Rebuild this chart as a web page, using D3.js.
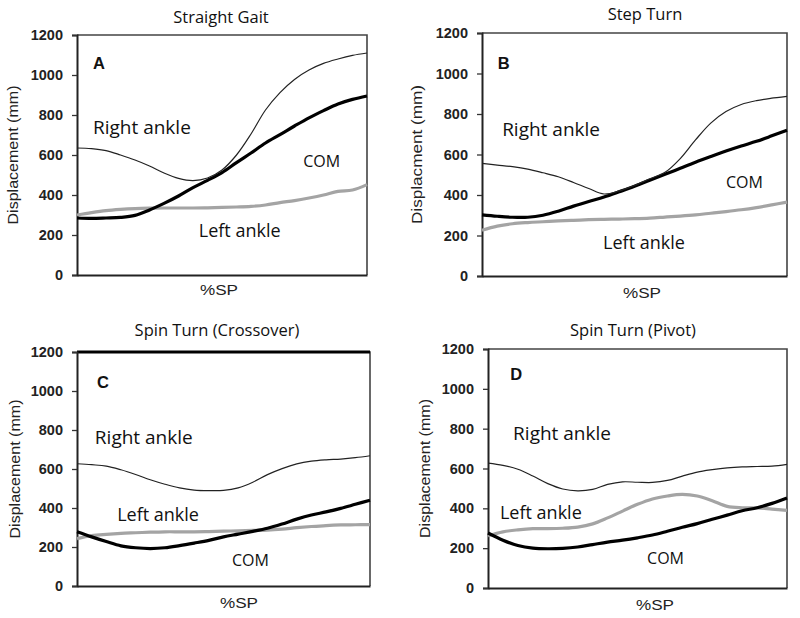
<!DOCTYPE html>
<html>
<head>
<meta charset="utf-8">
<script src="https://cdn.jsdelivr.net/npm/d3@7"></script>
<style>
  body { margin: 0; background: #fff; }
  svg { display: block; }
</style>
</head>
<body>
<svg width="800" height="618"></svg>
<script>
// %SP sample points shared by every curve
var pct = [0, 5, 10, 15, 20, 25, 30, 35, 40, 45, 50, 55, 60, 65, 70, 75, 80, 85, 90, 95, 100];
var yTicks = [0, 200, 400, 600, 800, 1000, 1200];

// A - Straight Gait
var rightA = [635, 632, 622, 600, 575, 545, 510, 483, 472, 485, 525, 600, 705, 825, 912, 978, 1025, 1058, 1080, 1098, 1110];
var comA   = [285, 283, 285, 288, 298, 325, 358, 395, 437, 473, 512, 562, 610, 660, 702, 745, 786, 822, 855, 878, 895];
var leftA  = [300, 312, 322, 328, 332, 334, 335, 335, 335, 336, 338, 340, 343, 350, 362, 372, 385, 400, 418, 425, 452];
// B - Step Turn
var rightB = [556, 548, 540, 528, 510, 490, 462, 432, 405, 420, 447, 480, 512, 580, 672, 755, 812, 847, 866, 878, 887];
var comB   = [302, 295, 290, 290, 300, 320, 345, 368, 390, 416, 443, 473, 502, 532, 562, 590, 617, 642, 665, 692, 720];
var leftB  = [226, 246, 258, 264, 268, 272, 275, 278, 280, 281, 283, 286, 291, 296, 302, 310, 318, 327, 338, 351, 365];
// C - Spin Turn (Crossover)
var rightC = [627, 622, 615, 596, 572, 545, 522, 503, 492, 489, 490, 503, 532, 571, 602, 626, 640, 647, 651, 658, 668];
var comC   = [278, 252, 228, 206, 196, 192, 196, 207, 220, 234, 252, 266, 280, 296, 318, 343, 364, 380, 398, 419, 440];
var leftC  = [243, 258, 265, 270, 273, 276, 278, 278, 278, 279, 281, 283, 285, 287, 292, 299, 305, 310, 313, 314, 315];
// D - Spin Turn (Pivot)
var rightD = [627, 616, 596, 562, 524, 497, 488, 495, 520, 533, 531, 530, 540, 562, 582, 594, 603, 608, 610, 612, 621];
var comD   = [276, 240, 213, 200, 197, 199, 206, 218, 230, 240, 252, 266, 285, 305, 323, 345, 366, 388, 403, 425, 452];
var leftD  = [262, 282, 292, 298, 298, 300, 306, 322, 352, 386, 420, 447, 462, 470, 462, 438, 410, 403, 402, 396, 390];

var titles = ["Straight Gait", "Step Turn", "Spin Turn (Crossover)", "Spin Turn (Pivot)"];
var letters = ["A", "B", "C", "D"];

var panels = [
  { box: [77, 367, 35, 275], titleX: 221, titleY: 23, right: rightA, com: comA, left: leftA,
    lab: { letter: [5.5, 1030], right: [5.5, 705], com: [78, 540], left: [42, 188] }, spX: 219, spY: 295, ylX: 13 },
  { box: [482, 787, 33, 276], titleX: 645, titleY: 20, right: rightB, com: comB, left: leftB,
    lab: { letter: [5.2, 1022], right: [6.6, 691], com: [80, 435], left: [39.7, 131] }, spX: 642, spY: 298, ylX: 417 },
  { box: [77, 370, 352, 586], titleX: 217, titleY: 336, right: rightC, com: comC, left: leftC, thickTop: true,
    lab: { letter: [6.8, 1015], right: [6.1, 728], com: [52.9, 103], left: [13.7, 335] }, spX: 239, spY: 608, ylX: 15 },
  { box: [488, 787, 349, 588], titleX: 633, titleY: 336, right: rightD, com: comD, left: leftD,
    lab: { letter: [7.4, 1044], right: [8.4, 743], com: [53.2, 120], left: [4, 348] }, spX: 655, spY: 610, ylX: 425 }
];

var svg = d3.select("svg");
var axisFont = "'Liberation Sans', Arial, sans-serif";
var textFont = "'Open Sans', 'Noto Sans', sans-serif";

panels.forEach(function(p, i) {
  var x = d3.scaleLinear().domain([0, 100]).range([p.box[0], p.box[1]]);
  var y = d3.scaleLinear().domain([0, 1200]).range([p.box[3], p.box[2]]);
  var g = svg.append("g");

  // title
  g.append("text")
    .attr("x", p.titleX)
    .attr("y", p.titleY)
    .attr("text-anchor", "middle")
    .style("font-family", textFont)
    .style("font-size", "16.5px")
    .attr("fill", "#111")
    .text(titles[i]);

  // plot frame (top + right)
  g.append("path")
    .attr("d", "M" + x(0) + "," + y(1200) + "H" + x(100) + "V" + y(0))
    .attr("fill", "none")
    .attr("stroke", "#444")
    .attr("stroke-width", 1.6);
  if (p.thickTop) {
    g.append("line")
      .attr("x1", x(0)).attr("x2", x(100))
      .attr("y1", y(1200)).attr("y2", y(1200))
      .attr("stroke", "#000")
      .attr("stroke-width", 3);
  }

  // y axis
  var yAxis = g.append("g")
    .attr("transform", "translate(" + x(0) + ",0)")
    .call(d3.axisLeft(y).tickValues(yTicks).tickSize(5).tickPadding(9).tickFormat(d3.format("d")));
  yAxis.select(".domain").attr("stroke", "#222").attr("stroke-width", 2);
  yAxis.selectAll(".tick line").attr("stroke", "#333").attr("stroke-width", 1.3);
  yAxis.selectAll(".tick text")
    .style("font-family", axisFont)
    .style("font-size", "14.5px")
    .style("font-weight", "bold")
    .attr("fill", "#222");

  // x axis (no ticks)
  var xAxis = g.append("g")
    .attr("transform", "translate(0," + y(0) + ")")
    .call(d3.axisBottom(x).tickValues([]).tickSizeOuter(0));
  xAxis.select(".domain").attr("stroke", "#222").attr("stroke-width", 2.2);

  // axis titles
  g.append("text")
    .attr("x", p.spX)
    .attr("y", p.spY)
    .attr("text-anchor", "middle")
    .style("font-family", axisFont)
    .style("font-size", "15px")
    .attr("textLength", 38)
    .attr("lengthAdjust", "spacingAndGlyphs")
    .attr("fill", "#222")
    .text("%SP");

  var ymid = (p.box[2] + p.box[3]) / 2;
  g.append("text")
    .attr("transform", "translate(" + p.ylX + "," + ymid + ") rotate(-90)")
    .attr("text-anchor", "middle")
    .attr("dy", "0.35em")
    .style("font-family", axisFont)
    .style("font-size", "14.5px")
    .attr("textLength", 139)
    .attr("lengthAdjust", "spacingAndGlyphs")
    .attr("fill", "#222")
    .text(i === 1 ? "Displacment (mm)" : "Displacement (mm)");

  // curves
  var line = d3.line()
    .x(function(d, j) { return x(pct[j]); })
    .y(function(d) { return y(d); })
    .curve(d3.curveCatmullRom.alpha(0.5));

  g.append("path").datum(p.left)
    .attr("d", line).attr("fill", "none")
    .attr("stroke", "#a4a4a4").attr("stroke-width", 3.2);
  g.append("path").datum(p.com)
    .attr("d", line).attr("fill", "none")
    .attr("stroke", "#000").attr("stroke-width", 3.2);
  g.append("path").datum(p.right)
    .attr("d", line).attr("fill", "none")
    .attr("stroke", "#222").attr("stroke-width", 1.2);

  // labels in data units
  g.append("text")
    .attr("x", x(p.lab.letter[0])).attr("y", y(p.lab.letter[1]))
    .style("font-family", axisFont).style("font-size", "16.5px").style("font-weight", "bold")
    .attr("fill", "#111")
    .text(letters[i]);

  [["right", "Right ankle", 19], ["com", "COM", 16], ["left", "Left ankle", 18]].forEach(function(l) {
    g.append("text")
      .attr("x", x(p.lab[l[0]][0])).attr("y", y(p.lab[l[0]][1]))
      .style("font-family", textFont).style("font-size", l[2] + "px")
      .attr("fill", "#111")
      .text(l[1]);
  });
});
</script>
</body>
</html>
